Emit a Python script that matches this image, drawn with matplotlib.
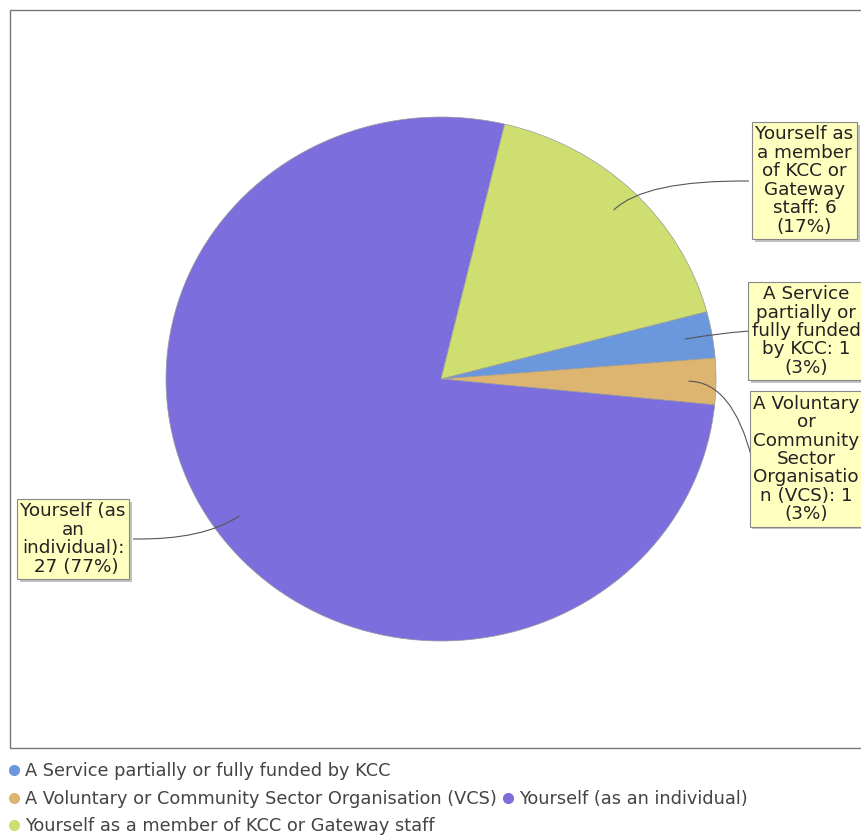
import numpy as np
import matplotlib
matplotlib.use('Agg')
import matplotlib.pyplot as plt
from matplotlib.path import Path
from matplotlib.patches import PathPatch, Rectangle
from matplotlib.lines import Line2D
import matplotlib.patheffects as pe

# Data
categories = ['A Service partially or fully funded by KCC',
              'A Voluntary or Community Sector Organisation (VCS)',
              'Yourself (as an individual)',
              'Yourself as a member of KCC or Gateway staff']
counts = [1, 1, 27, 6]
label_texts = ['A Service\npartially or\nfully funded\nby KCC: 1\n(3%)',
               'A Voluntary\nor\nCommunity\nSector\nOrganisatio\nn (VCS): 1\n(3%)',
               'Yourself (as\nan\nindividual):\n 27 (77%)',
               'Yourself as\na member\nof KCC or\nGateway\nstaff: 6\n(17%)']
colors = ['#6b97dd', '#ddb470', '#7c6edc', '#cede70']

W, H = 861, 836
fig = plt.figure(figsize=(W / 100, H / 100), dpi=100)

def fx(x):
    return x / W

def fy(y):
    return 1 - y / H

# plot frame (right side runs off the image)
frame = Rectangle((fx(10), fy(748)), 1.0, (748 - 10) / H, transform=fig.transFigure,
                  facecolor='none', edgecolor='#777777', linewidth=1.0, zorder=-1)
fig.patches.append(frame)

# pie (slightly elliptical, like the original)
cx, cy, rx, ry = 441, 379, 275, 262
ax = fig.add_axes([fx(cx - rx), fy(cy + ry), 2 * rx / W, 2 * ry / H])
start = 14.9
ax.pie(counts, colors=colors, startangle=start, counterclock=False, radius=1,
       wedgeprops=dict(edgecolor='#9a9a9a', linewidth=0.5))
ax.set_aspect('auto')
ax.set_xlim(-1, 1)
ax.set_ylim(-1, 1)
ax.axis('off')

# label boxes: centre of text, and where the link meets the box (pixels)
box_centres = [(806, 331), (806, 459), (73, 539), (804.5, 180.5)]
link_ends = [(752, 331), (752, 459), (133, 539), (749, 181)]

fracs = np.array(counts) / sum(counts)
ends = start - 360 * np.cumsum(fracs)
mids = ends + 180 * fracs

for i in range(len(counts)):
    m = np.radians(mids[i])
    p0 = (0.9 * np.cos(m), 0.9 * np.sin(m))
    p1 = (1.06 * np.cos(m), 1.06 * np.sin(m))
    tx, ty = link_ends[i]
    p2 = ((tx - cx) / rx, (cy - ty) / ry)
    path = Path([p0, p1, p2], [Path.MOVETO, Path.CURVE3, Path.CURVE3])
    ax.add_patch(PathPatch(path, facecolor='none', edgecolor='#555555',
                           linewidth=0.8, clip_on=False, zorder=5))

    bx, by = box_centres[i]
    t = fig.text(fx(bx), fy(by), label_texts[i], ha='center', va='center',
                 multialignment='center', fontsize=13.2, color='#222222',
                 linespacing=1.03, zorder=10,
                 bbox=dict(boxstyle='square,pad=0.18', facecolor='#ffffc0',
                           edgecolor='#888888', linewidth=0.8))
    t.get_bbox_patch().set_path_effects([
        pe.SimplePatchShadow(offset=(2, -2), shadow_rgbFace='#999999', alpha=0.6),
        pe.Normal()])

# legend, flowing over three lines
def handle(c):
    return Line2D([], [], marker='o', linestyle='', color=c, markersize=7)

rows = [([0], 771), ([1, 2], 799), ([3], 826)]
for idx, yy in rows:
    fig.legend([handle(colors[k]) for k in idx], [categories[k] for k in idx],
               loc='center left', bbox_to_anchor=(fx(8), fy(yy)), ncol=len(idx),
               frameon=False, fontsize=12.8, handlelength=0.7, handletextpad=0.28,
               columnspacing=0.25, borderpad=0, borderaxespad=0,
               labelcolor='#444444')

fig.savefig('out.png', dpi=100)
